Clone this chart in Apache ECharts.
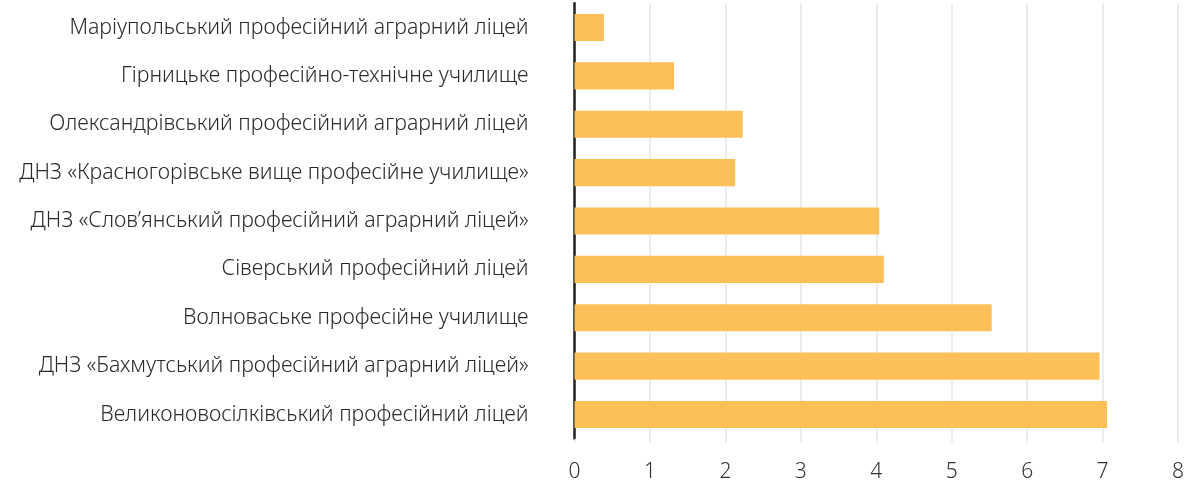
<!DOCTYPE html>
<html>
<head>
<meta charset="utf-8">
<script src="https://cdn.jsdelivr.net/npm/echarts@6/dist/echarts.min.js"></script>
<style>
  html, body { margin: 0; padding: 0; background: #fff; }
  #chart { width: 1192px; height: 484px; }
</style>
</head>
<body>
<div id="chart"></div>
<script>
// назви закладів (зверху вниз)
var categories = [
    'Маріупольський професійний аграрний ліцей',
    'Гірницьке професійно-технічне училище',
    'Олександрівський професійний аграрний ліцей',
    'ДНЗ «Красногорівське вище професійне училище»',
    'ДНЗ «Слов’янський професійний аграрний ліцей»',
    'Сіверський професійний ліцей',
    'Волноваське професійне училище',
    'ДНЗ «Бахмутський професійний аграрний ліцей»',
    'Великоновосілківський професійний ліцей'
];
var values = [0.39, 1.32, 2.23, 2.13, 4.04, 4.10, 5.53, 6.96, 7.06];
var xTicks = [0, 1, 2, 3, 4, 5, 6, 7, 8];

var chart = echarts.init(document.getElementById('chart'));

var option = {
    animation: false,
    grid: { left: 574.5, right: 14, top: 3.3, bottom: 45.3, containLabel: false },
    xAxis: {
        type: 'value',
        min: xTicks[0],
        max: xTicks[xTicks.length - 1],
        interval: 1,
        axisLine: { show: false },
        axisTick: { show: true, length: 4, lineStyle: { color: '#e6e6e6', width: 1.5 } },
        splitLine: { show: true, lineStyle: { color: '#e6e6e6', width: 1.5 } },
        axisLabel: {
            margin: 23,
            fontFamily: 'Noto Sans',
            fontWeight: 300,
            fontSize: 21,
            color: '#333'
        }
    },
    yAxis: {
        type: 'category',
        data: categories,
        inverse: true,
        axisLine: { show: true, lineStyle: { color: '#222', width: 2.5 } },
        axisTick: { show: false },
        axisLabel: {
            margin: 46,
            fontFamily: 'Noto Sans',
            fontWeight: 300,
            fontSize: 21.3,
            color: '#2a2a2a'
        }
    },
    series: [{
        type: 'bar',
        data: values,
        barWidth: '56%',
        itemStyle: { color: '#FDBF57' }
    }]
};

chart.setOption(option);
</script>
</body>
</html>
